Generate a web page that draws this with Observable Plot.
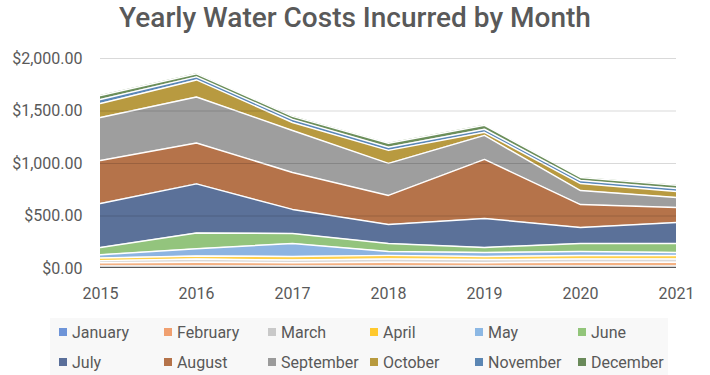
<!DOCTYPE html>
<html>
<head>
<meta charset="utf-8">
<script src="https://cdn.jsdelivr.net/npm/d3@7"></script>
<script src="https://cdn.jsdelivr.net/npm/@observablehq/plot@0.6"></script>
<style>
  html, body { margin: 0; padding: 0; background: #fff; overflow: hidden; }
  #wrap { position: relative; width: 710px; height: 375px; font-family: Roboto, sans-serif; color: #595959; overflow: hidden; }
  #title { position: absolute; left: 0; top: 0; width: 710px; text-align: center; font-size: 28px; font-weight: 500; line-height: 36px; color: #595959; }
  #chart { position: absolute; left: 0; top: 0; }
  #legend { position: absolute; left: 50px; top: 318px; width: 618px; height: 70px; background: #f8f8f8; }
  .item { position: absolute; font-size: 16px; line-height: 20px; white-space: nowrap; color: #595959; }
  .sw { display: inline-block; width: 8px; height: 8px; margin-right: 5px; vertical-align: 2px; }
</style>
</head>
<body>
<div id="wrap">
  <div id="title">Yearly Water Costs Incurred by Month</div>
  <div id="chart"></div>
  <div id="legend"></div>
</div>
<script>
const years = [2015, 2016, 2017, 2018, 2019, 2020, 2021];
const months = ["January","February","March","April","May","June","July","August","September","October","November","December"];
const january   = [25, 25, 25, 25, 25, 25, 25];
const february  = [30, 35, 30, 35, 30, 35, 35];
const march     = [20, 30, 25, 30, 30, 30, 30];
const april     = [25, 30, 35, 35, 30, 34, 34];
const may       = [30, 67, 124, 38, 38, 38, 29];
const june      = [70, 152, 95, 76, 48, 76, 86];
const july      = [419, 467, 229, 181, 276, 152, 200];
const august    = [410, 390, 352, 276, 562, 219, 143];
const september = [410, 438, 400, 305, 229, 133, 95];
const october   = [133, 162, 76, 124, 29, 67, 57];
const november  = [38, 29, 29, 29, 29, 29, 29];
const december  = [38, 29, 29, 38, 38, 29, 29];
const yTicks = [0, 500, 1000, 1500, 2000];

const series = [january, february, march, april, may, june, july, august, september, october, november, december];
const areaColors   = ["#595959","#f4b183","#d9d9d9","#ffd04a","#8db4e2","#93c47d","#5b7199","#b5734a","#9e9e9e","#b89a40","#5a87b8","#6b8e5a"];
const legendColors = ["#6e94d8","#f0a070","#c9c9c9","#ffc92e","#8cb8e4","#92c57a","#5a6f9a","#b5734a","#9b9b9b","#b89a3e","#5b86b3","#6a8a5a"];

const data = [];
months.forEach((m, i) => years.forEach((y, j) => data.push({month: m, year: y, value: series[i][j]})));

const chart = Plot.plot({
  width: 710,
  height: 310,
  marginTop: 58,
  marginBottom: 42,
  marginLeft: 100,
  marginRight: 34,
  style: {fontFamily: "Roboto, sans-serif", fontSize: "16px", color: "#595959", background: "transparent"},
  x: {domain: [2015, 2021], ticks: years, tickFormat: "d", tickSize: 0, tickPadding: 19, label: null},
  y: {domain: [0, 2000], ticks: yTicks, tickFormat: d3.format("$,.2f"), tickSize: 0, tickPadding: 18, label: null},
  color: {domain: months, range: areaColors},
  marks: [
    Plot.areaY(data, Plot.stackY({x: "year", y: "value", z: "month", order: months, fill: "month"})),
    Plot.lineY(data, Plot.stackY2({x: "year", y: "value", z: "month", order: months, stroke: "white", strokeWidth: 1.5})),
    Plot.ruleY(yTicks.filter(d => d > 0), {stroke: "#000", strokeOpacity: 0.15, strokeWidth: 1.2}),
    Plot.axisX({ticks: years, tickFormat: "d", tickSize: 0, tickPadding: 19, fill: "#595959"}),
    Plot.axisY({ticks: yTicks, tickFormat: d3.format("$,.2f"), tickSize: 0, tickPadding: 18, fill: "#595959"})
  ]
});
document.getElementById("chart").appendChild(chart);

const cols = [59, 164, 268, 370, 475, 578];
const legend = document.getElementById("legend");
months.forEach((m, i) => {
  const el = document.createElement("div");
  el.className = "item";
  el.style.left = (cols[i % 6] - 50) + "px";
  el.style.top = (i < 6 ? 5 : 35) + "px";
  el.innerHTML = `<span class="sw" style="background:${legendColors[i]}"></span>${m}`;
  legend.appendChild(el);
});
</script>
</body>
</html>
